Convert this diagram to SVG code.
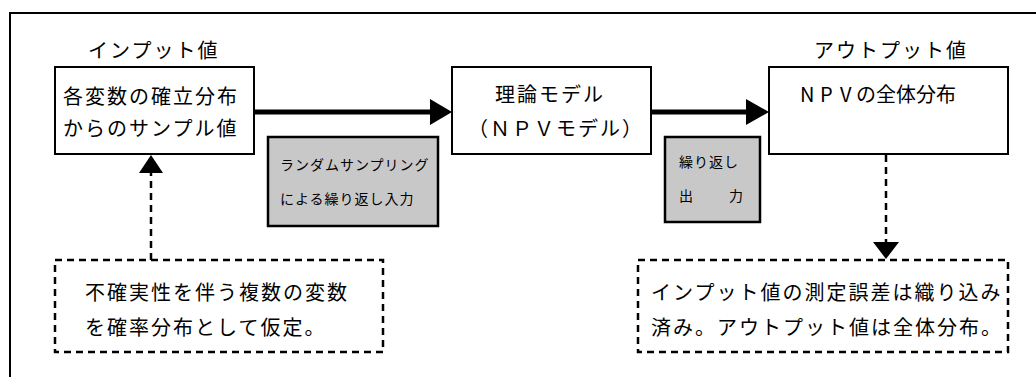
<svg xmlns="http://www.w3.org/2000/svg" width="1036" height="377" viewBox="0 0 1036 377">
<style>
text{font-family:"Noto Sans CJK JP","Noto Sans CJK SC",sans-serif;fill:#000}
.t{font-size:20px;letter-spacing:2px}
.s{font-size:14px;letter-spacing:1px}
.box{fill:#fff;stroke:#000;stroke-width:2}
.gbox{fill:#c8c8c8;stroke:#000;stroke-width:2.5}
.dbox{fill:#fff;stroke:#000;stroke-width:2.5;stroke-dasharray:7 5}
.thick{stroke:#000;stroke-width:5;fill:none}
.dash{stroke:#000;stroke-width:2.5;stroke-dasharray:7 5;fill:none}
</style>
<rect width="1036" height="377" fill="#fff"/>
<rect x="10" y="13" width="1040" height="380" fill="none" stroke="#000" stroke-width="2"/>
<g id="connectors">
<line class="thick" x1="254" y1="112" x2="432" y2="112"/>
<polygon points="430,99 452,112 430,125"/>
<line class="thick" x1="651" y1="112" x2="748" y2="112"/>
<polygon points="746,99 769,112 746,125"/>
<line class="dash" x1="151" y1="260" x2="151" y2="173"/>
<polygon points="139,173 151,155 163,173"/>
<line class="dash" x1="886" y1="155" x2="886" y2="242"/>
<polygon points="873,242 899,242 886,259"/>
</g>
<g id="input-label"><text class="t" x="88" y="58">インプット値</text></g>
<g id="output-label"><text class="t" x="814" y="58">アウトプット値</text></g>
<g id="input">
<rect class="box" x="55" y="67" width="199" height="87"/>
<text class="t" x="63" y="104">各変数の確立分布</text>
<text class="t" x="63" y="136">からのサンプル値</text>
</g>
<g id="model">
<rect class="box" x="452" y="67" width="199" height="87"/>
<text class="t" x="495" y="102">理論モデル</text>
<text class="t" x="468" y="136">（ＮＰＶモデル）</text>
</g>
<g id="output">
<rect class="box" x="769" y="67" width="239" height="87"/>
<text class="t" x="800 820 840 856 876 896 916 936" y="102" style="letter-spacing:0">NPVの全体分布</text>
</g>
<g id="sampling">
<rect class="gbox" x="268" y="137" width="170" height="89"/>
<text class="s" x="280" y="170">ランダムサンプリング</text>
<text class="s" x="280" y="204">による繰り返し入力</text>
</g>
<g id="repeat-output">
<rect class="gbox" x="665" y="137" width="95" height="85"/>
<text class="s" x="679" y="167">繰り返し</text>
<text class="s" x="679" y="201">出<tspan x="729">力</tspan></text>
</g>
<g id="note-input">
<rect class="dbox" x="55" y="260" width="328" height="92"/>
<text class="t" x="85" y="300">不確実性を伴う複数の変数</text>
<text class="t" x="85" y="335">を確率分布として仮定。</text>
</g>
<g id="note-output">
<rect class="dbox" x="638" y="260" width="370" height="92"/>
<text class="t" x="651" y="300">インプット値の測定誤差は織り込み</text>
<text class="t" x="651" y="335">済み。アウトプット値は全体分布。</text>
</g>
</svg>
